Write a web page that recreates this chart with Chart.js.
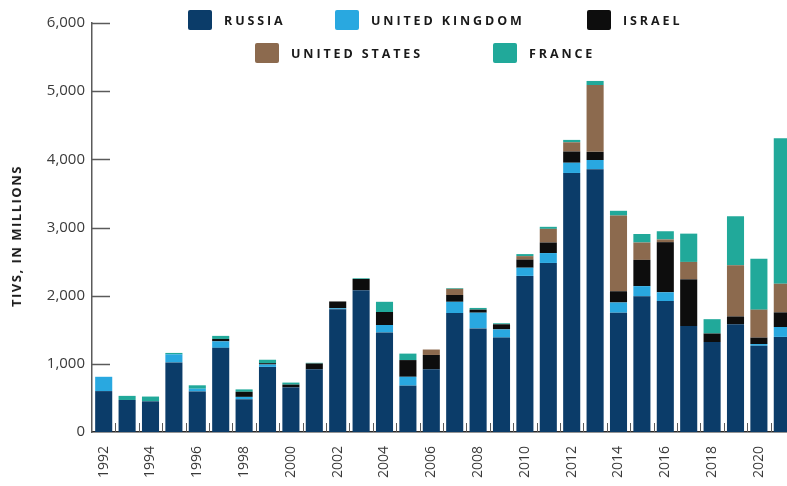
<!DOCTYPE html>
<html>
<head>
<meta charset="utf-8">
<script src="https://cdn.jsdelivr.net/npm/chart.js@4/dist/chart.umd.min.js"></script>
<style>
  html, body { margin: 0; padding: 0; background: #fff; overflow: hidden; }
  body { width: 787px; height: 486px; position: relative; }
  #wrap { position: absolute; left: 0; top: 0; width: 794px; height: 486px; }
  #yTitle {
    position: absolute; left: 16px; top: 236px;
    transform: translate(-50%, -50%) rotate(-90deg);
    font: bold 13px "Open Sans", sans-serif; letter-spacing: 1.5px;
    color: #1a1a1a; white-space: nowrap;
  }
  .leg { position: absolute; display: flex; align-items: center; height: 20px; }
  .leg .sw { width: 24px; height: 20px; border-radius: 2px; margin-right: 12px; }
  .leg .tx { font: bold 12.5px "Open Sans", sans-serif; letter-spacing: 2.9px; color: #1a1a1a; white-space: nowrap; }
</style>
</head>
<body>
<div id="wrap"><canvas id="chart"></canvas></div>
<div id="yTitle">TIVS, IN MILLIONS</div>
<div id="legend"></div>
<script>
const years = [1992, 1993, 1994, 1995, 1996, 1997, 1998, 1999, 2000, 2001,
  2002, 2003, 2004, 2005, 2006, 2007, 2008, 2009, 2010, 2011,
  2012, 2013, 2014, 2015, 2016, 2017, 2018, 2019, 2020, 2021];

const russia = [600, 470, 450, 1020, 595, 1235, 480, 955, 655, 920,
  1800, 2080, 1460, 680, 920, 1745, 1520, 1385, 2290, 2480,
  3800, 3855, 1750, 1990, 1920, 1555, 1320, 1580, 1265, 1395];
const unitedKingdom = [210, 0, 0, 120, 40, 95, 35, 35, 0, 0,
  15, 0, 110, 130, 0, 165, 230, 120, 120, 145,
  150, 135, 150, 150, 130, 0, 0, 0, 25, 145];
const israel = [0, 0, 0, 0, 0, 35, 75, 20, 40, 85,
  100, 165, 190, 245, 210, 100, 45, 75, 120, 155,
  165, 120, 165, 385, 735, 685, 125, 115, 95, 215];
const unitedStates = [0, 0, 0, 0, 0, 0, 0, 0, 0, 0,
  0, 0, 0, 0, 80, 90, 0, 0, 50, 200,
  135, 980, 1110, 255, 40, 255, 0, 750, 410, 420];
const france = [0, 60, 70, 20, 50, 45, 35, 50, 30, 10,
  0, 10, 150, 95, 0, 10, 25, 15, 30, 30,
  35, 60, 70, 125, 120, 415, 210, 720, 745, 2135];

const yTicks = [0, 1000, 2000, 3000, 4000, 5000, 6000];

const seriesNames = ["RUSSIA", "UNITED KINGDOM", "ISRAEL", "UNITED STATES", "FRANCE"];
const seriesData = [russia, unitedKingdom, israel, unitedStates, france];
const seriesColors = ["#0b3c69", "#29a8e0", "#0d0d0d", "#8c6a4e", "#21a99a"];

/* legend (html, two rows) */
const legendPos = [[188, 10], [335, 10], [587, 10], [255, 43], [493, 43]];
let legHtml = "";
seriesNames.forEach((name, i) => {
  legHtml += `
    <div class="leg" style="left:${legendPos[i][0]}px;top:${legendPos[i][1]}px">
      <div class="sw" style="background:${seriesColors[i]}"></div>
      <div class="tx">${name}</div>
    </div>`;
});
document.getElementById("legend").innerHTML = legHtml;

/* inward tick marks */
const axisMarks = {
  id: "axisMarks",
  afterDraw(chart) {
    const { ctx, chartArea, scales: { x, y } } = chart;
    ctx.save();
    ctx.strokeStyle = "#5a5a5a";
    ctx.lineWidth = 1.5;
    y.ticks.forEach((t) => {
      if (t.value === 0) return;
      const py = Math.round(y.getPixelForValue(t.value)) + 0.5;
      ctx.beginPath();
      ctx.moveTo(chartArea.left, py);
      ctx.lineTo(chartArea.left + 18, py);
      ctx.stroke();
    });
    ctx.lineWidth = 1;
    for (let i = 1; i < years.length; i++) {
      const px = Math.round((x.getPixelForValue(i - 1) + x.getPixelForValue(i)) / 2) + 0.5;
      ctx.beginPath();
      ctx.moveTo(px, chartArea.bottom);
      ctx.lineTo(px, chartArea.bottom - 9);
      ctx.stroke();
    }
    ctx.restore();
  },
};

const tickFont = { family: "'Open Sans', sans-serif", size: 14 };

new Chart(document.getElementById("chart"), {
  type: "bar",
  data: {
    labels: years.map(String),
    datasets: seriesNames.map((name, i) => ({
      label: name,
      data: seriesData[i],
      backgroundColor: seriesColors[i],
      borderWidth: 0,
      barPercentage: 0.73,
      categoryPercentage: 1,
    })),
  },
  options: {
    responsive: true,
    maintainAspectRatio: false,
    animation: false,
    layout: { padding: { top: 23, left: 0, right: 0, bottom: 0 } },
    plugins: { legend: { display: false }, tooltip: { enabled: false } },
    scales: {
      x: {
        stacked: true,
        grid: { display: false, drawTicks: false },
        border: { display: true, color: "#2a2a2a", width: 1.5 },
        ticks: {
          autoSkip: false,
          minRotation: 90,
          maxRotation: 90,
          padding: 14,
          color: "#3a3a3a",
          font: tickFont,
          callback: (v, i) => (i % 2 === 0 ? years[i] : ""),
        },
        afterFit: (s) => {
          s.height = 54;
          s.paddingLeft = 0;
          s.paddingRight = 0;
        },
      },
      y: {
        stacked: true,
        min: 0,
        max: 6000,
        afterBuildTicks: (s) => {
          s.ticks = yTicks.map((v) => ({ value: v }));
        },
        grid: { display: false, drawTicks: false },
        border: { display: true, color: "#5a5a5a", width: 1.5 },
        ticks: {
          padding: 7,
          color: "#3a3a3a",
          font: { family: "'Open Sans', sans-serif", size: 15 },
          callback: (v) => v.toLocaleString("en-US"),
        },
        afterFit: (s) => {
          s.width = 92;
        },
      },
    },
  },
  plugins: [axisMarks],
});
</script>
</body>
</html>
